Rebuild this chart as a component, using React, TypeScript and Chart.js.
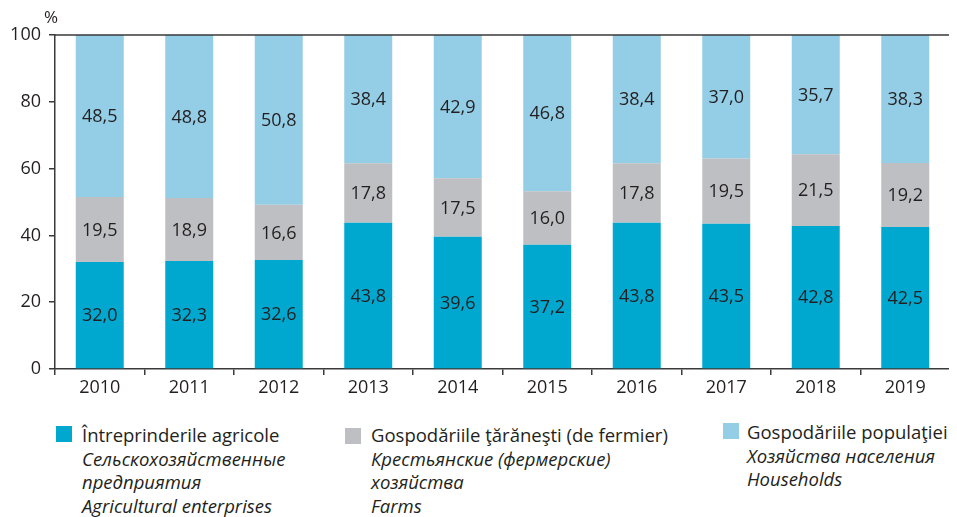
import React, { useEffect, useRef } from "react";
import { Chart, registerables } from "chart.js";

Chart.register(...registerables);

const years = ["2010", "2011", "2012", "2013", "2014", "2015", "2016", "2017", "2018", "2019"];
const enterprises = [32.0, 32.3, 32.6, 43.8, 39.6, 37.2, 43.8, 43.5, 42.8, 42.5];
const farms = [19.5, 18.9, 16.6, 17.8, 17.5, 16.0, 17.8, 19.5, 21.5, 19.2];
const households = [48.5, 48.8, 50.8, 38.4, 42.9, 46.8, 38.4, 37.0, 35.7, 38.3];
const yTicks = [0, 20, 40, 60, 80, 100];

const COLORS = ["#00a8cf", "#bebfc3", "#93cde6"];
const TEXT = "#231f20";
const FONT = "'Open Sans', 'Noto Sans', sans-serif";

const legendItems = [
  { color: COLORS[0], lines: ["Întreprinderile agricole", "Сельскохозяйственные", "предприятия", "Agricultural enterprises"], sq: [48, 418], tx: 74, top: 415 },
  { color: COLORS[1], lines: ["Gospodăriile ţărăneşti (de fermier)", "Крестьянские (фермерские)", "хозяйства", "Farms"], sq: [337, 420], tx: 363, top: 415 },
  { color: COLORS[2], lines: ["Gospodăriile populaţiei", "Хозяйства населения", "Households"], sq: [715, 415], tx: 739, top: 412 },
];

const labelPlugin = {
  id: "labels",
  afterDatasetsDraw(chart: any) {
    const ctx = chart.ctx;
    const a = chart.chartArea;
    ctx.save();
    ctx.strokeStyle = "#3a3a3a";
    ctx.lineWidth = 1.5;
    ctx.beginPath();
    ctx.moveTo(a.left, a.top);
    ctx.lineTo(a.right, a.top);
    ctx.lineTo(a.right, a.bottom);
    ctx.stroke();
    ctx.font = `18px ${FONT}`;
    ctx.fillStyle = TEXT;
    ctx.textAlign = "center";
    ctx.textBaseline = "middle";
    chart.data.datasets.forEach((ds: any, di: number) => {
      const meta = chart.getDatasetMeta(di);
      meta.data.forEach((bar: any, i: number) => {
        const v = ds.data[i];
        const y = (bar.y + bar.base) / 2;
        ctx.fillText(v.toFixed(1).replace(".", ","), bar.x, y + 1);
      });
    });
    ctx.font = `17px ${FONT}`;
    ctx.textAlign = "center";
    ctx.fillText("%", a.left - 4, a.top - 17);
    ctx.restore();
  },
};

export default function App() {
  const ref = useRef<HTMLCanvasElement>(null);
  useEffect(() => {
    if (!ref.current) return;
    const chart = new Chart(ref.current, {
      type: "bar",
      data: {
        labels: years,
        datasets: [
          { label: "Întreprinderile agricole", data: enterprises, backgroundColor: COLORS[0] },
          { label: "Gospodăriile ţărăneşti (de fermier)", data: farms, backgroundColor: COLORS[1] },
          { label: "Gospodăriile populaţiei", data: households, backgroundColor: COLORS[2] },
        ],
      },
      options: {
        animation: false,
        responsive: false,
        maintainAspectRatio: false,
        layout: { padding: { top: 27, right: 2, bottom: 0, left: 0 } },
        datasets: { bar: { barPercentage: 0.536, categoryPercentage: 1, borderWidth: 0 } },
        plugins: { legend: { display: false }, tooltip: { enabled: false } },
        scales: {
          x: {
            stacked: true,
            grid: { display: true, drawOnChartArea: false, drawTicks: true, tickLength: 6, color: "#3a3a3a", lineWidth: 1.5, offset: true },
            border: { display: true, color: "#3a3a3a", width: 1.5 },
            ticks: { color: TEXT, font: { family: FONT, size: 18 }, padding: 2 },
            afterFit: (s: any) => { s.height = 39; },
          },
          y: {
            stacked: true,
            min: 0,
            max: 100,
            afterBuildTicks: (s: any) => { s.ticks = yTicks.map((v) => ({ value: v })); },
            grid: { display: true, drawOnChartArea: false, drawTicks: true, tickLength: 6, color: "#3a3a3a", lineWidth: 1.5 },
            border: { display: true, color: "#3a3a3a", width: 1.5 },
            ticks: { color: TEXT, font: { family: FONT, size: 18 }, padding: 8 },
            afterFit: (s: any) => { s.width = 47; },
          },
        },
      },
      plugins: [labelPlugin],
    });
    return () => chart.destroy();
  }, []);

  return (
    <div style={{ position: "relative", width: 944, height: 509, fontFamily: FONT, color: TEXT }}>
      <canvas ref={ref} width={944} height={400} style={{ display: "block", width: 944, height: 400 }} />
      {legendItems.map((it, k) => (
        <React.Fragment key={k}>
          <div style={{ position: "absolute", left: it.sq[0], top: it.sq[1], width: 16, height: 16, background: it.color }} />
          <div style={{ position: "absolute", left: it.tx, top: it.top, fontSize: 18.5, lineHeight: "23.5px", whiteSpace: "nowrap" }}>
            {it.lines.map((l, j) => (
              <div key={j} style={{ fontStyle: j === 0 ? "normal" : "italic" }}>{l}</div>
            ))}
          </div>
        </React.Fragment>
      ))}
    </div>
  );
}
